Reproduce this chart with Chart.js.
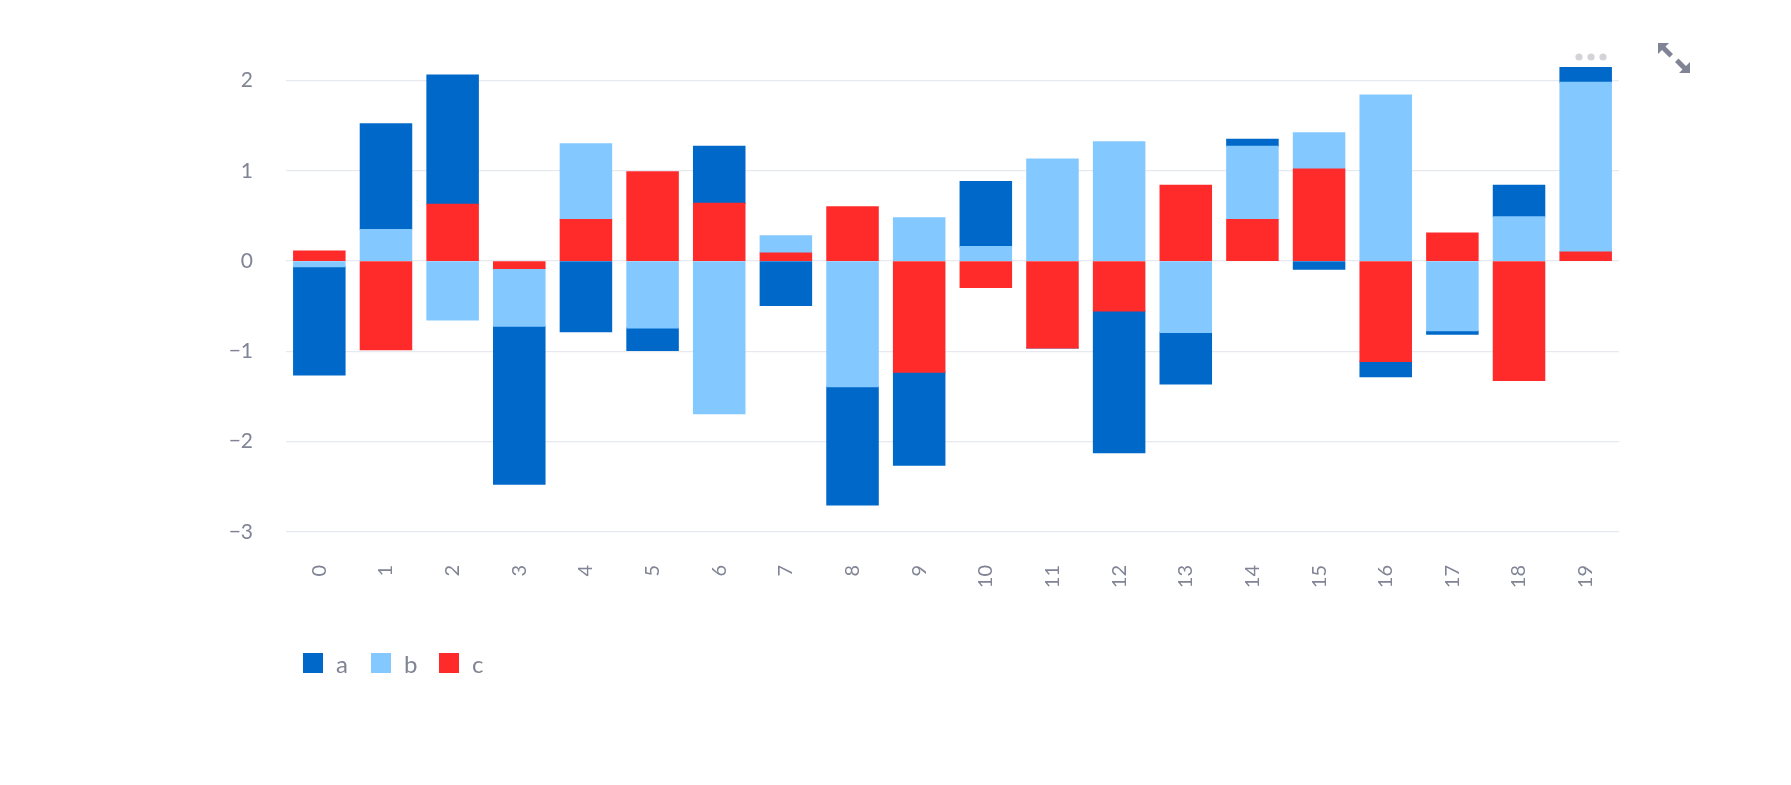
<!DOCTYPE html>
<html>
<head>
<meta charset="utf-8">
<script src="https://cdn.jsdelivr.net/npm/chart.js@4/dist/chart.umd.min.js"></script>
<style>
  html, body { margin: 0; padding: 0; background: #fff; }
  #wrap { position: relative; width: 1791px; height: 785px; overflow: hidden; font-family: "Source Sans Pro", Lato, sans-serif; }
  #c { position: absolute; left: 0; top: 0; }
  #legend { position: absolute; left: 303px; top: 650px; display: flex; }
  .item { display: flex; align-items: center; width: 68px; height: 26px; color: #808495; font-size: 24px; }
  .sw { width: 20px; height: 20px; margin-right: 13px; }
  #dots { position: absolute; left: 1574px; top: 52px; }
  #expand { position: absolute; left: 1658px; top: 43px; }
</style>
</head>
<body>
<div id="wrap">
  <canvas id="c" width="1791" height="785"></canvas>
  <div id="legend"></div>
  <svg id="dots" width="36" height="10"><circle cx="5" cy="5" r="3.6" fill="#d3d4d8"/><circle cx="17" cy="5" r="3.6" fill="#d3d4d8"/><circle cx="29" cy="5" r="3.6" fill="#d3d4d8"/></svg>
  <svg id="expand" width="32" height="30" viewBox="0 0 32 30">
    <polygon points="0,0 11,0 7.5,3.5 15,11 11.5,14.5 4,7 0,11" fill="#808495"/>
    <polygon points="32,30 21,30 24.5,26.5 17,19 20.5,15.5 28,23 32,19" fill="#808495"/>
  </svg>
</div>
<script>
// data
const categories = ['0','1','2','3','4','5','6','7','8','9','10','11','12','13','14','15','16','17','18','19'];
const seriesA = [-1.20, 1.17, 1.43, -1.75, -0.78, -0.25, 0.63, -0.49, -1.31, -1.03, 0.72, 0.00, -1.57, -0.57, 0.08, -0.09, -0.17, -0.04, 0.35, 0.17];
const seriesB = [-0.06, 0.35, -0.65, -0.64, 0.84, -0.74, -1.69, 0.19, -1.39, 0.48, 0.16, 1.13, 1.32, -0.79, 0.81, 0.40, 1.84, -0.77, 0.49, 1.88];
const seriesC = [0.11, -0.98, 0.63, -0.08, 0.46, 0.99, 0.64, 0.09, 0.60, -1.23, -0.29, -0.96, -0.55, 0.84, 0.46, 1.02, -1.11, 0.31, -1.32, 0.10];
const seriesNames = ['a', 'b', 'c'];
const yTicks = [-3, -2, -1, 0, 1, 2];

const COLORS = { a: '#0068c9', b: '#83c9ff', c: '#ff2b2b' };
const MUTED = '#808495';
const FONT = '"Source Sans Pro", Lato, sans-serif';

// chart area edges in the reference
const AREA_LEFT = 286, AREA_TOP = 67, AREA_BOTTOM = 532, AREA_RIGHT = 1619;

// top of the tallest positive stack
const posTop = Math.max(...categories.map((_, i) =>
  [seriesA[i], seriesB[i], seriesC[i]].filter(v => v > 0).reduce((s, v) => s + v, 0)));

const ds = (label, data) => ({ label, data, backgroundColor: COLORS[label], borderWidth: 0, inflateAmount: 0.6, barPercentage: 0.77, categoryPercentage: 1 });

new Chart(document.getElementById('c'), {
  type: 'bar',
  data: {
    labels: categories,
    // c stacks nearest zero, then b, then a
    datasets: [ds('c', seriesC), ds('b', seriesB), ds('a', seriesA)]
  },
  options: {
    responsive: false,
    animation: false,
    layout: { padding: { top: AREA_TOP, right: 1791 - AREA_RIGHT, left: 0, bottom: 0 } },
    plugins: { legend: { display: false }, tooltip: { enabled: false } },
    scales: {
      x: {
        stacked: true,
        grid: { display: false, drawTicks: false },
        border: { display: false },
        ticks: { color: MUTED, font: { family: FONT, size: 20 }, minRotation: 90, maxRotation: 90, padding: 33 },
        afterFit: s => { s.height = 785 - AREA_BOTTOM; }
      },
      y: {
        stacked: true,
        min: yTicks[0],
        max: posTop,
        grid: { color: '#e6e9ef', lineWidth: 1.3, drawTicks: false },
        border: { display: false },
        afterBuildTicks: s => { s.ticks = yTicks.map(v => ({ value: v })); },
        ticks: { color: MUTED, font: { family: FONT, size: 21 }, padding: 33, callback: v => v < 0 ? '\u2212' + Math.abs(v) : String(v) },
        afterFit: s => { s.width = AREA_LEFT; }
      }
    }
  }
});

// legend in a, b, c order
const legend = document.getElementById('legend');
seriesNames.forEach(n => {
  const it = document.createElement('div');
  it.className = 'item';
  it.innerHTML = `<span class="sw" style="background:${COLORS[n]}"></span><span>${n}</span>`;
  legend.appendChild(it);
});
</script>
</body>
</html>
